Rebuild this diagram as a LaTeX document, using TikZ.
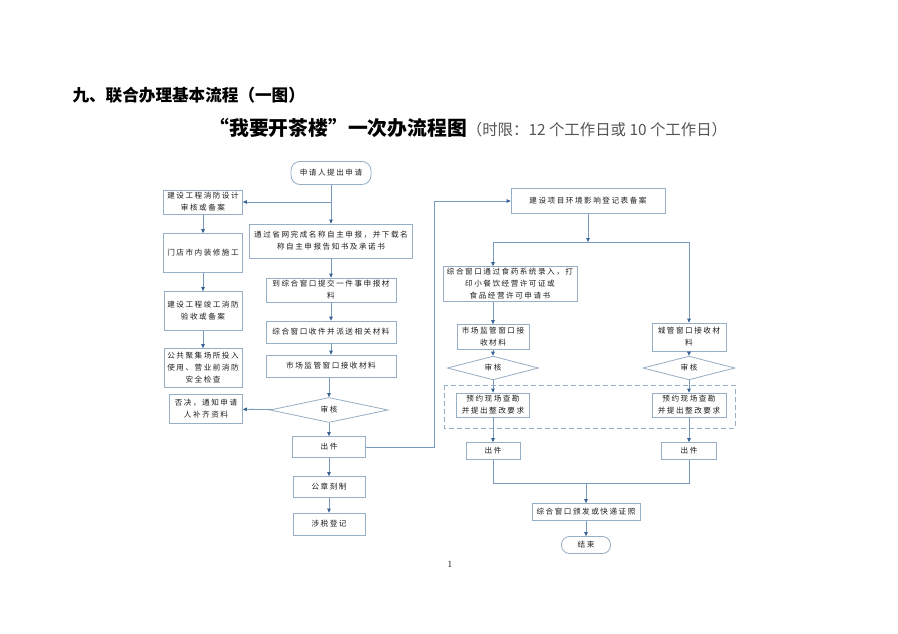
\documentclass[tikz,border=0pt]{standalone}
\usepackage{fontspec}
\usetikzlibrary{shapes.geometric,arrows.meta}
\newfontfamily\cjk{Noto Sans CJK SC}
\newfontfamily\cjkbox{Noto Sans CJK SC}[LetterSpace=20]
\definecolor{boxc}{RGB}{150,174,198}
\definecolor{linec}{RGB}{120,154,190}
\definecolor{arrc}{RGB}{55,98,150}
\definecolor{txtc}{RGB}{30,30,30}
\tikzset{
  box/.style={draw=boxc, line width=0.8pt, fill=white, align=center, inner sep=0pt,
    text=txtc, font=\cjkbox\fontsize{7.6}{12}\selectfont},
  term/.style={box, rounded corners=9pt},
  check/.style={box, shape=diamond, minimum width=#1, minimum height=18},
  line/.style={draw=linec, line width=0.8pt},
  arr/.style={line, -{Triangle[length=4pt,width=3.6pt,color=arrc]}}
}

\begin{document}
\begin{tikzpicture}[x=1pt,y=-1pt]
    \useasboundingbox[fill=white] (0,0) rectangle (898,634);
    \node[anchor=west, font=\cjk\bfseries\fontsize{16.6}{18}\selectfont] (title) at (69,95) {九、联合办理基本流程（一图）};
    \node[anchor=west] (subtitle) at (206,128) {{\cjk\bfseries\fontsize{19.8}{22}\selectfont “我要开茶楼”一次办流程图}{\cjk\fontsize{15.4}{17}\selectfont\color[RGB]{85,85,85}（时限：12 个工作日或 10 个工作日）}};

    \node[term, minimum width=80, minimum height=23] (start) at (331,173) {申请人提出申请};
    \node[box, minimum width=79, minimum height=24] (xfsj) at (203,202) {建设工程消防设计\\审核或备案};
    \node[box, minimum width=79, minimum height=39] (mdzx) at (203,253) {门店市内装修施工};
    \node[box, minimum width=78, minimum height=39] (jgys) at (203,311) {建设工程竣工消防\\验收或备案};
    \node[box, minimum width=78, minimum height=39] (ggjj) at (203,368) {公共聚集场所投入\\使用、营业前消防\\安全检查};
    \node[box, minimum width=73, minimum height=29] (fj) at (206,409) {否决，通知申请\\人补齐资料};

    \node[box, minimum width=163, minimum height=34] (mcsb) at (331,241) {通过省网完成名称自主申报，并下载名\\称自主申报告知书及承诺书};
    \node[box, minimum width=130, minimum height=24] (tjcl) at (331,290) {到综合窗口提交一件事申报材\\料};
    \node[box, minimum width=130, minimum height=22] (sjps) at (331,332) {综合窗口收件并派送相关材料};
    \node[box, minimum width=130, minimum height=22] (scjg) at (331,366) {市场监管窗口接收材料};
    \node[check=118, minimum height=25] (sh) at (329,410) {审核};
    \node[box, minimum width=73, minimum height=21] (cj) at (329,447) {出件};
    \node[box, minimum width=72, minimum height=21] (gzkz) at (329,487) {公章刻制};
    \node[box, minimum width=72, minimum height=22] (sswj) at (329,524) {涉税登记};

    \node[box, minimum width=154, minimum height=25] (hjyx) at (588,201) {建设项目环境影响登记表备案};
    \node[box, minimum width=134, minimum height=35] (spxt) at (510,284) {综合窗口通过食药系统录入，打\\印小餐饮经营许可证或\\食品经营许可申请书};
    \node[box, minimum width=72, minimum height=25] (scjs) at (493,337) {市场监管窗口接\\收材料};
    \node[box, minimum width=74, minimum height=28] (cgjs) at (689,337) {城管窗口接收材\\料};
    \draw[boxc, line width=0.8pt, dash pattern=on 5pt off 3pt] (444,385) rectangle (735,428);
    \node[check=91] (shL) at (493,368) {审核};
    \node[check=92] (shR) at (689,368) {审核};
    \node[box, minimum width=73, minimum height=24] (yyL) at (493,405) {预约现场查勘\\并提出整改要求};
    \node[box, minimum width=74, minimum height=24] (yyR) at (689,405) {预约现场查勘\\并提出整改要求};
    \node[box, minimum width=54, minimum height=17] (cjL) at (493,451) {出件};
    \node[box, minimum width=55, minimum height=17] (cjR) at (689,451) {出件};
    \node[box, minimum width=108, minimum height=17] (bfkd) at (586,512) {综合窗口颁发或快递证照};
    \node[term, minimum width=49, minimum height=17, rounded corners=8pt] (end) at (586,545) {结束};
    \node[font=\fontsize{9.5}{10}\selectfont] (page) at (450,564) {1};

    \coordinate (fbtop) at (434,201);
    \coordinate (split) at (588,242);
    \coordinate (merge) at (586,483);

    \draw[arr] (start) -- (mcsb);
    \draw[arr] (start |- xfsj) -- (xfsj);
    \draw[arr] (xfsj) -- (mdzx);
    \draw[arr] (mdzx) -- (jgys);
    \draw[arr] (jgys) -- (ggjj);
    \draw[arr] (mcsb) -- (tjcl);
    \draw[arr] (tjcl) -- (sjps);
    \draw[arr] (sjps) -- (scjg);
    \draw[arr] (scjg.south -| sh) -- (sh);
    \draw[arr] (sh) -- (fj);
    \draw[arr] (sh) -- (cj);
    \draw[arr] (cj) -- (gzkz);
    \draw[arr] (gzkz) -- (sswj);
    \draw[arr] (cj.east) -| (fbtop) -- (hjyx.west);
    \draw[arr] (hjyx.south) -- (split);
    \draw[arr] (split) -| (scjs |- spxt.north);
    \draw[arr] (split) -| (cgjs);
    \draw[arr] (scjs |- spxt.south) -- (scjs);
    \draw[arr] (scjs) -- (shL);
    \draw[arr] (shL) -- (yyL);
    \draw[arr] (yyL) -- (cjL);
    \draw[arr] (cgjs) -- (shR);
    \draw[arr] (shR) -- (yyR);
    \draw[arr] (yyR) -- (cjR);
    \draw[line] (cjL) |- (merge);
    \draw[line] (cjR) |- (merge);
    \draw[arr] (merge) -- (bfkd);
    \draw[arr] (bfkd) -- (end);
\end{tikzpicture}
\end{document}
